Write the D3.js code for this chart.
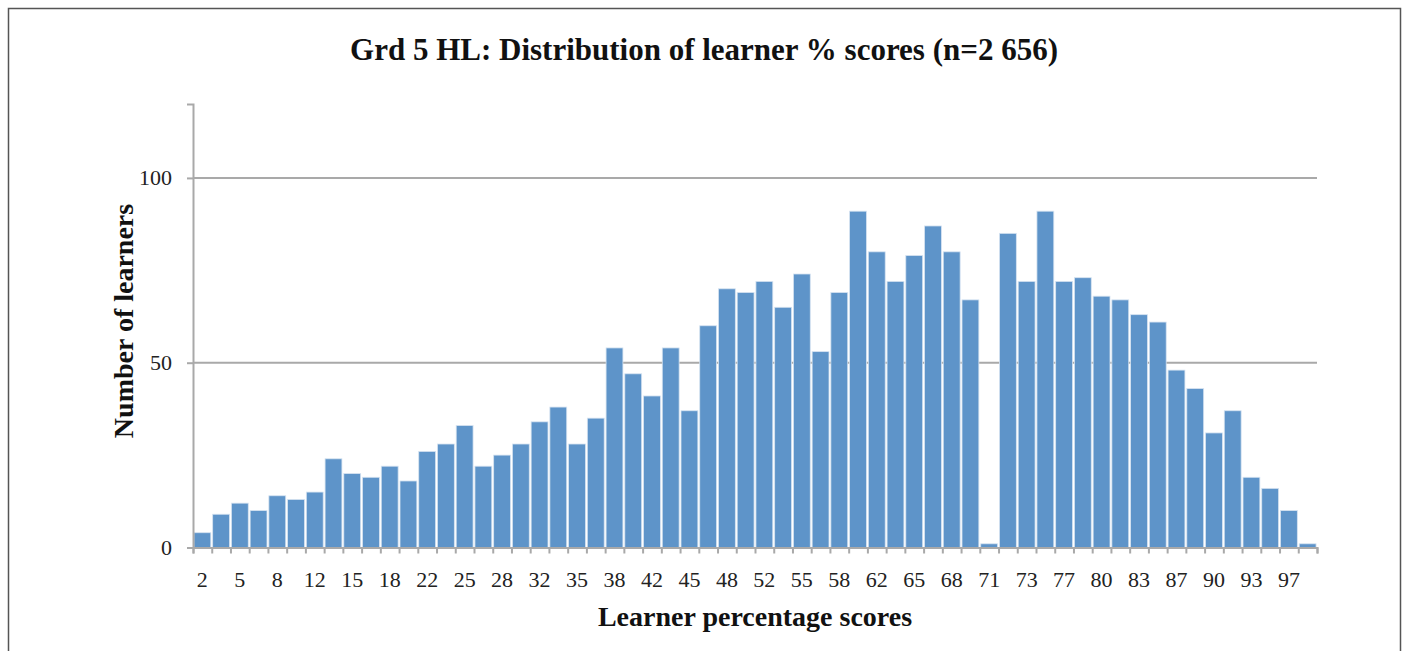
<!DOCTYPE html>
<html>
<head>
<meta charset="utf-8">
<script src="https://cdn.jsdelivr.net/npm/d3@7"></script>
<style>
  html, body { margin: 0; padding: 0; background: #fff; }
  svg { display: block; }
</style>
</head>
<body>
<svg id="chart"></svg>
<script>
// Score categories (every other one is labelled on the axis)
const scores = ["2", "3", "5", "7", "8", "10", "12", "13", "15", "17",
                "18", "20", "22", "23", "25", "27", "28", "30", "32", "33",
                "35", "37", "38", "40", "42", "43", "45", "47", "48", "50",
                "52", "53", "55", "57", "58", "60", "62", "63", "65", "67",
                "68", "70", "71", "72", "73", "75", "77", "78", "80", "82",
                "83", "85", "87", "88", "90", "92", "93", "95", "97", "100"];

// Number of learners per score
const learners = [4, 9, 12, 10, 14, 13, 15, 24, 20, 19,
                  22, 18, 26, 28, 33, 22, 25, 28, 34, 38,
                  28, 35, 54, 47, 41, 54, 37, 60, 70, 69,
                  72, 65, 74, 53, 69, 91, 80, 72, 79, 87,
                  80, 67, 1, 85, 72, 91, 72, 73, 68, 67,
                  63, 61, 48, 43, 31, 37, 19, 16, 10, 1];

const xTickLabels = ["2", "5", "8", "12", "15", "18", "22", "25", "28", "32",
                     "35", "38", "42", "45", "48", "52", "55", "58", "62", "65",
                     "68", "71", "73", "77", "80", "83", "87", "90", "93", "97"];

const yTicks = [0, 50, 100];

const data = scores.map((s, i) => ({ score: s, n: learners[i] }));

var dims = {
  width: 1406,
  height: 651,
  margins: { top: 104, right: 89, bottom: 104, left: 193 }
};
var plotWidth = 1317 - dims.margins.left;
var plotHeight = 547.5 - dims.margins.top;
const serif = "'Liberation Serif', 'Times New Roman', serif";

const svg = d3.select("#chart")
  .attr("width", dims.width)
  .attr("height", dims.height);

// outer frame
svg.append("rect")
  .attr("x", 8.5).attr("y", 8.5)
  .attr("width", 1392).attr("height", 660)
  .attr("fill", "none")
  .attr("stroke", "#555")
  .attr("stroke-width", 1.5);

const g = svg.append("g")
  .attr("transform", `translate(${dims.margins.left},${dims.margins.top})`);

const xScale = d3.scaleBand()
  .domain(scores)
  .range([0, plotWidth])
  .paddingInner(0.1)
  .paddingOuter(0.05);

// linear helper for the boundary tick marks
const xEdge = d3.scaleLinear()
  .domain([0, scores.length])
  .range([0, plotWidth]);

const yScale = d3.scaleLinear()
  .domain([0, 120])
  .range([plotHeight, 0]);

// gridlines
g.append("g")
  .selectAll("line")
  .data(yTicks.filter(d => d > 0))
  .enter()
  .append("line")
  .attr("x1", 0)
  .attr("x2", plotWidth)
  .attr("y1", d => yScale(d))
  .attr("y2", d => yScale(d))
  .attr("stroke", "#a9a9a9")
  .attr("stroke-width", 2);

// bars
g.selectAll("rect.bar")
  .data(data)
  .enter()
  .append("rect")
  .attr("class", "bar")
  .attr("x", d => xScale(d.score))
  .attr("y", d => yScale(d.n))
  .attr("width", xScale.bandwidth())
  .attr("height", d => plotHeight - yScale(d.n))
  .attr("fill", "#5e94c9")
  .attr("stroke", "#d6e3f1")
  .attr("stroke-width", 0.8);

// y axis
const yAxis = g.append("g")
  .call(d3.axisLeft(yScale).tickValues(yTicks).tickSize(6).tickPadding(15));
yAxis.select(".domain").attr("stroke", "#a9a9a9").attr("stroke-width", 2);
yAxis.selectAll(".tick line").attr("stroke", "#a9a9a9").attr("stroke-width", 2);
yAxis.selectAll("text")
  .attr("font-family", serif)
  .attr("font-size", 22)
  .attr("fill", "#222");

// x axis: tick marks at bar boundaries
const xTickAxis = g.append("g")
  .attr("transform", `translate(0,${plotHeight})`)
  .call(d3.axisBottom(xEdge).tickValues(d3.range(scores.length + 1)).tickSize(6).tickFormat(""));
xTickAxis.select(".domain").attr("stroke", "#a9a9a9").attr("stroke-width", 2);
xTickAxis.selectAll(".tick line").attr("stroke", "#a9a9a9").attr("stroke-width", 2);

// x axis: labels on every other bar
const xLabelAxis = g.append("g")
  .attr("transform", `translate(0,${plotHeight})`)
  .call(d3.axisBottom(xScale)
    .tickValues(scores.filter((s, i) => i % 2 === 0))
    .tickFormat((s, i) => xTickLabels[i])
    .tickSize(0)
    .tickPadding(24));
xLabelAxis.select(".domain").remove();
xLabelAxis.selectAll("text")
  .attr("font-family", serif)
  .attr("font-size", 22)
  .attr("fill", "#222");

// title
svg.append("text")
  .attr("x", 704)
  .attr("y", 60)
  .attr("text-anchor", "middle")
  .attr("font-family", serif)
  .attr("font-weight", "bold")
  .attr("font-size", 31)
  .attr("fill", "#111")
  .text("Grd 5 HL: Distribution of learner % scores (n=2 656)");

// axis titles
svg.append("text")
  .attr("x", dims.margins.left + plotWidth / 2)
  .attr("y", 626)
  .attr("text-anchor", "middle")
  .attr("font-family", serif)
  .attr("font-weight", "bold")
  .attr("font-size", 28)
  .attr("fill", "#111")
  .text("Learner percentage scores");

svg.append("text")
  .attr("transform", "rotate(-90)")
  .attr("x", -321)
  .attr("y", 133)
  .attr("text-anchor", "middle")
  .attr("font-family", serif)
  .attr("font-weight", "bold")
  .attr("font-size", 28)
  .attr("fill", "#111")
  .text("Number of learners");
</script>
</body>
</html>
